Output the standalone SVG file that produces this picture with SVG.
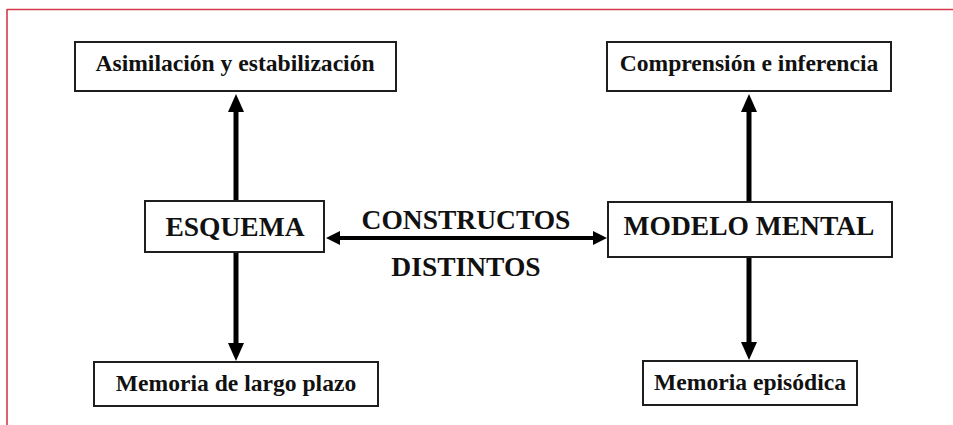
<svg xmlns="http://www.w3.org/2000/svg" width="953" height="425" viewBox="0 0 953 425">
<style>
.box{fill:#fff;stroke:#1e1e1e;stroke-width:2}
.t{font-family:"Liberation Serif","Times New Roman",serif;font-weight:bold;fill:#111;text-anchor:middle}
.s{font-size:23.6px}
.b{font-size:27.5px}
.ln{stroke:#000;fill:none}
.hd{fill:#000}
</style>
<rect x="0" y="0" width="953" height="425" fill="#fff"/>
<g id="frame">
<line x1="7" y1="9.5" x2="953" y2="9.5" stroke="#d43c4c" stroke-width="1.6"/>
<line x1="7" y1="9" x2="7" y2="425" stroke="#d43c4c" stroke-width="1.6"/>
</g>
<g id="connectors">
<line class="ln" x1="236" y1="201" x2="236" y2="108" stroke-width="5"/>
<path class="hd" d="M236 94 L244 112 L228 112 Z"/>
<line class="ln" x1="236" y1="253" x2="236" y2="346" stroke-width="5"/>
<path class="hd" d="M236 361 L244 343 L228 343 Z"/>
<line class="ln" x1="749" y1="202" x2="749" y2="108" stroke-width="5"/>
<path class="hd" d="M749 94 L757 112 L741 112 Z"/>
<line class="ln" x1="749" y1="257" x2="749" y2="345" stroke-width="5"/>
<path class="hd" d="M749 360 L757 342 L741 342 Z"/>
<line class="ln" x1="336" y1="238" x2="595" y2="238" stroke-width="4"/>
<path class="hd" d="M326 238 L340 231 L340 245 Z"/>
<path class="hd" d="M607 238 L593 231 L593 245 Z"/>
</g>
<g id="n-asim">
<rect class="box" x="75" y="42" width="321" height="49"/>
<text class="t s" x="235" y="71">Asimilación y estabilización</text>
</g>
<g id="n-comp">
<rect class="box" x="607" y="42" width="284" height="49"/>
<text class="t s" x="749" y="71">Comprensión e inferencia</text>
</g>
<g id="n-esq">
<rect class="box" x="145" y="201" width="179" height="51"/>
<text class="t b" x="235" y="236">ESQUEMA</text>
</g>
<g id="n-mod">
<rect class="box" x="608" y="202" width="284" height="55"/>
<text class="t b" x="749" y="235">MODELO MENTAL</text>
</g>
<g id="n-lbl">
<text class="t b" x="466" y="229">CONSTRUCTOS</text>
<text class="t b" x="466" y="276">DISTINTOS</text>
</g>
<g id="n-mlp">
<rect class="box" x="94" y="362" width="284" height="44"/>
<text class="t s" x="236" y="391">Memoria de largo plazo</text>
</g>
<g id="n-mep">
<rect class="box" x="643" y="361" width="214" height="44"/>
<text class="t s" x="750" y="390">Memoria episódica</text>
</g>
</svg>
